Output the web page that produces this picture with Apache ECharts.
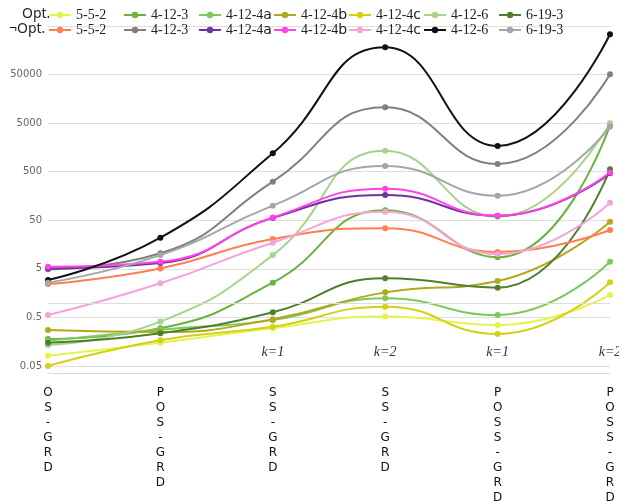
<!DOCTYPE html>
<html>
<head>
<meta charset="utf-8">
<script src="https://cdn.jsdelivr.net/npm/echarts@6/dist/echarts.min.js"></script>
<style>
html,body{margin:0;padding:0;background:#fff;overflow:hidden;}
#c{width:619px;height:501px;}
</style>
</head>
<body>
<div id="c"></div>
<script>
// ---- data ----
const categories = ['OS-GRD', 'POS-GRD', 'SS-GRD', 'SS-GRD', 'POSS-GRD', 'POSS-GRD'];
const kLabels = ['', '', 'k=1', 'k=2', 'k=1', 'k=2'];
const yTickLabels = ['0.05', '0.5', '5', '50', '500', '5000', '50000', '500000'];
const Y_MIN = 0.05;
const seriesNames = ['5-5-2', '4-12-3', '4-12-4a', '4-12-4b', '4-12-4c', '4-12-6', '6-19-3'];

const opt_5_5_2   = [0.081, 0.15, 0.30, 0.52, 0.35, 1.45];
const opt_4_12_3  = [0.18, 0.30, 2.6, 80, 8.65, 4500];
const opt_4_12_4a = [0.166, 0.28, 0.44, 1.24, 0.56, 7.0];
const opt_4_12_4b = [0.275, 0.25, 0.46, 1.64, 2.81, 46.8];
const opt_4_12_4c = [0.05, 0.17, 0.32, 0.83, 0.228, 2.64];
const opt_4_12_6  = [0.135, 0.41, 9.6, 1356, 59, 4970];
const opt_6_19_3  = [0.15, 0.236, 0.64, 3.2, 2.05, 561];

const nopt_5_5_2   = [2.43, 5.1, 20.6, 34.2, 11.1, 31.5];
const nopt_4_12_3  = [4.9, 10.5, 312, 10600, 721, 50700];
const nopt_4_12_4a = [5.1, 6.6, 56, 166, 62, 463];
const nopt_4_12_4b = [5.5, 7.0, 57, 224, 62, 480];
const nopt_4_12_4c = [0.56, 2.52, 17.3, 75, 10.1, 115];
const nopt_4_12_6  = [2.95, 21.9, 1197, 182000, 1695, 338000];
const nopt_6_19_3  = [2.6, 9.6, 100, 656, 160, 4230];

const optValues = [opt_5_5_2, opt_4_12_3, opt_4_12_4a, opt_4_12_4b, opt_4_12_4c, opt_4_12_6, opt_6_19_3];
const noptValues = [nopt_5_5_2, nopt_4_12_3, nopt_4_12_4a, nopt_4_12_4b, nopt_4_12_4c, nopt_4_12_6, nopt_6_19_3];

// ---- styles ----
const optColors = ['#e4f44a', '#6cb23e', '#7dca5a', '#b3a81c', '#d6cf16', '#a6d48c', '#4e7f2d'];
const noptColors = ['#ff7f50', '#808080', '#7030a0', '#ff44e6', '#f5a3d9', '#111111', '#a6a6a6'];

// log scale relative to the axis minimum (ticks at 0.05, 0.5, 5, ...)
const toY = v => Math.log10(v / Y_MIN);

const series = [];
const optLegend = [], noptLegend = [];
function addSeries(prefix, vals, colors, legendList) {
  seriesNames.forEach((n, i) => {
    const name = prefix + ' ' + n;
    legendList.push(name);
    series.push({
      name: name,
      type: 'line',
      smooth: true,
      symbol: 'circle',
      symbolSize: 6,
      lineStyle: { width: 2, color: colors[i] },
      itemStyle: { color: colors[i] },
      data: vals[i].map(toY)
    });
  });
}
addSeries('Opt.', optValues, optColors, optLegend);
addSeries('¬Opt.', noptValues, noptColors, noptLegend);

// reference line at value 1
series.unshift({
  name: 'ref', type: 'line', data: [], silent: true,
  markLine: {
    silent: true, symbol: ['none', 'none'], label: { show: false },
    lineStyle: { color: '#dcdcdc', type: 'solid', width: 1 },
    data: [{ yAxis: toY(1) }]
  }
});

function makeLegend(top, names) {
  // one legend per item so each item sits in an equal slot
  return names.map((n, i) => ({
    left: 48 + i * 75, top: top, orient: 'horizontal', padding: 0,
    itemWidth: 22, itemHeight: 8, itemGap: 0,
    data: [n],
    formatter: nm => {
      const label = nm.split(' ')[1];
      const m = label.match(/^([0-9\-]+)([a-z]*)$/);
      return '{d|' + m[1] + '}' + (m[2] ? '{s|' + m[2] + '}' : '');
    },
    textStyle: {
      color: '#222',
      rich: {
        d: { fontFamily: 'Liberation Serif', fontSize: 14, color: '#222' },
        s: { fontFamily: 'DejaVu Sans', fontSize: 14, color: '#222' }
      }
    }
  }));
}

const option = {
  animation: false,
  backgroundColor: '#fff',
  grid: { left: 48, right: 9, top: 26, bottom: 135, containLabel: false, outerBoundsMode: 'none' },
  legend: makeLegend(8, optLegend).concat(makeLegend(23, noptLegend)),
  graphic: [
    { type: 'text', left: 22, top: 7, style: { text: 'Opt.', font: '14px "Noto Sans"', fill: '#222' } },
    { type: 'text', left: 9, top: 22, style: { text: '¬Opt.', font: '14px "Noto Sans"', fill: '#222' } }
  ],
  xAxis: [
    {
      type: 'category', data: categories, boundaryGap: false,
      axisLine: { show: false }, axisTick: { show: false },
      axisLabel: {
        interval: 0, margin: 19, fontSize: 12, lineHeight: 15,
        fontFamily: 'DejaVu Sans', color: '#111',
        formatter: v => v.split('').join('\n')
      },
      splitLine: { show: false }
    },
    {
      type: 'category', data: kLabels, boundaryGap: false, position: 'bottom', offset: 7,
      axisLine: { show: true, lineStyle: { color: '#dcdcdc', width: 1 } },
      axisTick: { show: false },
      axisLabel: {
        inside: true, interval: 0, margin: 14, fontSize: 14,
        fontFamily: 'Liberation Serif', fontStyle: 'italic', color: '#333'
      }
    }
  ],
  yAxis: {
    type: 'value', min: 0, max: 7, interval: 1,
    axisLine: { show: false }, axisTick: { show: false },
    axisLabel: {
      fontSize: 10, color: '#666', margin: 6, fontFamily: 'DejaVu Sans',
      showMaxLabel: false,
      formatter: v => yTickLabels[Math.round(v)]
    },
    splitLine: { lineStyle: { color: '#dedede', width: 1 } }
  },
  series: series
};

const chart = echarts.init(document.getElementById('c'), null, { renderer: 'canvas' });
chart.setOption(option);
</script>
</body>
</html>
